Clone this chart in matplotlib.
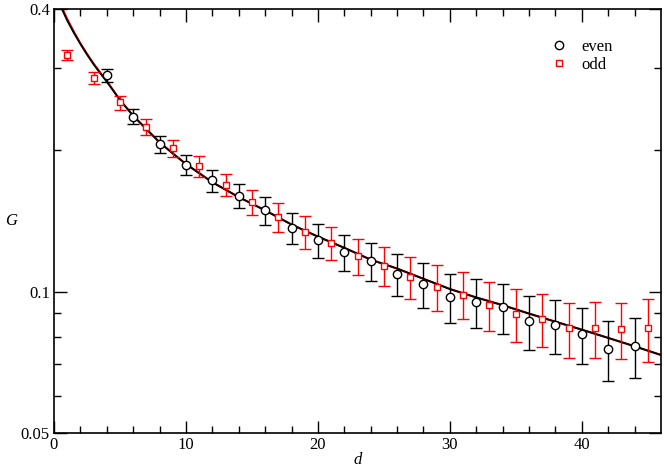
import numpy as np
import matplotlib.pyplot as plt
from matplotlib.ticker import FixedLocator, NullFormatter, FixedFormatter
from matplotlib.lines import Line2D

# even separations
d_even = [4, 6, 8, 10, 12, 14, 16, 18, 20, 22, 24, 26, 28, 30, 32, 34, 36, 38, 40, 42, 44]
G_even = [0.289, 0.236, 0.206, 0.1865, 0.1725, 0.160, 0.149, 0.1367, 0.1287, 0.1214, 0.1163,
          0.109, 0.1038, 0.0973, 0.0951, 0.0926, 0.0865, 0.0848, 0.0811, 0.0756, 0.0766]
err_even = [0.0089, 0.0086, 0.0089, 0.0091, 0.0094, 0.0096, 0.0102, 0.0105, 0.0107, 0.0105, 0.0109,
            0.0112, 0.0113, 0.0115, 0.0115, 0.0114, 0.0115, 0.0113, 0.0111, 0.0111, 0.0112]

# odd separations
d_odd = [1, 3, 5, 7, 9, 11, 13, 15, 17, 19, 21, 23, 25, 27, 29, 31, 33, 35, 37, 39, 41, 43, 45]
G_odd = [0.319, 0.285, 0.253, 0.224, 0.202, 0.185, 0.169, 0.155, 0.144, 0.134, 0.127, 0.119,
         0.1135, 0.1076, 0.1025, 0.0986, 0.0937, 0.0897, 0.0875, 0.0835, 0.0836, 0.0832, 0.0836]
err_odd = [0.0075, 0.008, 0.0087, 0.0087, 0.0089, 0.0093, 0.0095, 0.0097, 0.0102, 0.0106, 0.0104, 0.0107,
           0.0107, 0.0111, 0.0114, 0.0113, 0.0113, 0.0114, 0.0113, 0.0111, 0.0113, 0.0112, 0.0129]

# fitted curves
d_fit = [0.6, 1.0, 1.5, 2.0, 2.5, 3.0, 3.5, 4.0, 5.0, 6.0, 7.0, 8.0, 9.0, 10, 12, 14, 16, 18, 20,
         22, 24, 26, 28, 30, 32, 34, 36, 38, 40, 42, 44, 46]
G_fit_even = [0.400, 0.378, 0.356, 0.337, 0.320, 0.305, 0.292, 0.280, 0.256, 0.237, 0.222, 0.208,
              0.197, 0.187, 0.171, 0.159, 0.149, 0.139, 0.131, 0.124, 0.117, 0.112, 0.1065, 0.1013,
              0.0972, 0.0936, 0.0898, 0.0863, 0.0830, 0.0797, 0.0765, 0.0733]
G_fit_odd = [0.403, 0.381, 0.358, 0.338, 0.321, 0.306, 0.293, 0.281, 0.256, 0.237, 0.222, 0.208,
             0.197, 0.187, 0.171, 0.159, 0.149, 0.139, 0.131, 0.124, 0.117, 0.112, 0.1065, 0.1013,
             0.0972, 0.0936, 0.0898, 0.0863, 0.0830, 0.0797, 0.0765, 0.0733]

plt.rcParams['font.family'] = ['Liberation Serif', 'DejaVu Serif']
plt.rcParams['font.size'] = 12

fig = plt.figure(figsize=(6.64, 4.70), dpi=100)
ax = fig.add_axes([54/664, 37/470, 607/664, 424/470])

ax.plot(d_fit, G_fit_odd, color='red', lw=1.5, zorder=2)
ax.plot(d_fit, G_fit_even, color='black', lw=1.3, zorder=2)

# capsize is half the cap length
ax.errorbar(d_even, G_even, yerr=err_even, fmt='o', color='black', mfc='white', mec='black',
            ms=6, mew=1.0, ecolor='black', elinewidth=1.0, capsize=4.6, capthick=1.0,
            zorder=3, label='even')
ax.errorbar(d_odd, G_odd, yerr=err_odd, fmt='s', color='red', mfc='white', mec='red',
            ms=5, mew=1.0, ecolor='red', elinewidth=1.0, capsize=4.6, capthick=1.0,
            zorder=3, label='odd')

ax.set_yscale('log')
ax.set_xlim(0, 46)
ax.set_ylim(0.05, 0.4)

ax.xaxis.set_major_locator(FixedLocator([0, 10, 20, 30, 40]))
ax.xaxis.set_minor_locator(FixedLocator(list(range(2, 46, 2))))
ax.yaxis.set_major_locator(FixedLocator([0.05, 0.1, 0.4]))
ax.yaxis.set_major_formatter(FixedFormatter(['0.05', '0.1', '0.4']))
ax.yaxis.set_minor_locator(FixedLocator([0.06, 0.07, 0.08, 0.09, 0.2, 0.3]))
ax.yaxis.set_minor_formatter(NullFormatter())

ax.tick_params(which='both', direction='in', top=True, right=True, labelsize=12, pad=3)
ax.tick_params(which='major', length=9, width=1)
ax.tick_params(which='minor', length=5, width=1)
for s in ax.spines.values():
    s.set_linewidth(1.2)

ax.set_xlabel('d', style='italic', fontsize=12)
ax.xaxis.set_label_coords(0.5, -0.045)
ax.set_ylabel('G', style='italic', fontsize=12, rotation=0)
ax.yaxis.set_label_coords(-0.07, 0.48)

# legend without error bars
handles = [Line2D([], [], ls='', marker='o', mfc='white', mec='black', ms=6, mew=1.0),
           Line2D([], [], ls='', marker='s', mfc='white', mec='red', ms=5, mew=1.0)]
ax.legend(handles, ['even', 'odd'], loc='upper right', bbox_to_anchor=(0.945, 0.965),
          frameon=False, handletextpad=0.6, handlelength=1.5, labelspacing=0.1, fontsize=12)

fig.savefig('out.png', dpi=100)
